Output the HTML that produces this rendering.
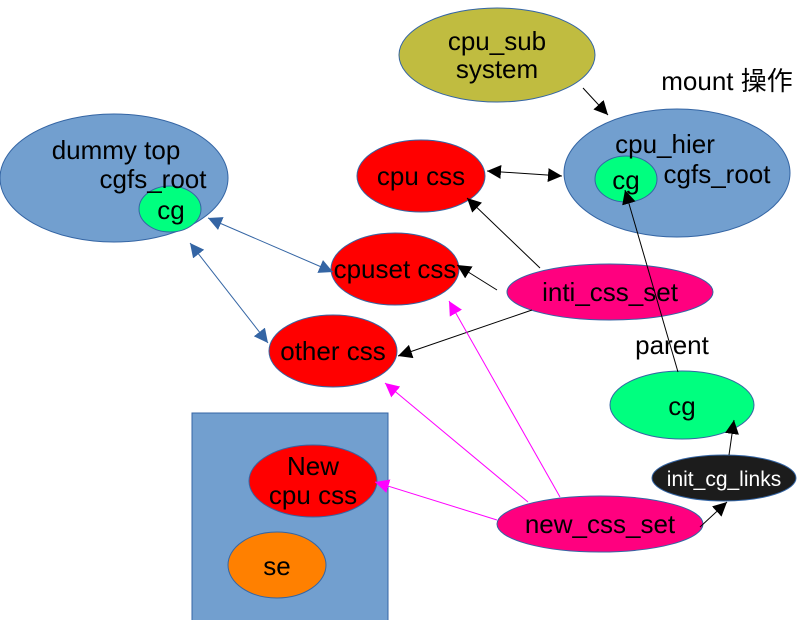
<!DOCTYPE html>
<html><head><meta charset="utf-8"><style>body{margin:0;background:#fff}svg{display:block}text{font-family:"Liberation Sans","Noto Sans CJK SC",sans-serif;font-size:26px}</style></head><body>
<svg width="806" height="620" viewBox="0 0 806 620" xmlns="http://www.w3.org/2000/svg">
<defs>
<marker id="k" viewBox="0 0 10 10" refX="10" refY="5" markerWidth="14" markerHeight="14" markerUnits="userSpaceOnUse" orient="auto-start-reverse"><path d="M0,0L10,5L0,10z" fill="#000"/></marker>
<marker id="b" viewBox="0 0 10 10" refX="10" refY="5" markerWidth="14" markerHeight="14" markerUnits="userSpaceOnUse" orient="auto-start-reverse"><path d="M0,0L10,5L0,10z" fill="#3465a4"/></marker>
<marker id="m" viewBox="0 0 10 10" refX="10" refY="5" markerWidth="14" markerHeight="14" markerUnits="userSpaceOnUse" orient="auto-start-reverse"><path d="M0,0L10,5L0,10z" fill="#ff00ff"/></marker>
</defs>
<rect x="192" y="413" width="196" height="210" fill="#729fcf" stroke="#3465a4"/>
<ellipse cx="497" cy="55" rx="98" ry="47" fill="#c0bc40" stroke="#3465a4"/>
<ellipse cx="677" cy="173" rx="113" ry="64" fill="#729fcf" stroke="#3465a4"/>
<ellipse cx="626" cy="179" rx="31" ry="23" fill="#00ff7f" stroke="#3465a4"/>
<ellipse cx="114" cy="178" rx="114" ry="64" fill="#729fcf" stroke="#3465a4"/>
<ellipse cx="170" cy="209" rx="31" ry="23" fill="#00ff7f" stroke="#3465a4"/>
<ellipse cx="421" cy="176" rx="64" ry="36" fill="#ff0000" stroke="#3465a4"/>
<ellipse cx="395" cy="269" rx="64" ry="36" fill="#ff0000" stroke="#3465a4"/>
<ellipse cx="333" cy="351" rx="64" ry="36" fill="#ff0000" stroke="#3465a4"/>
<ellipse cx="610" cy="292" rx="103" ry="28" fill="#ff007f" stroke="#3465a4"/>
<ellipse cx="682" cy="405" rx="72" ry="34" fill="#00ff7f" stroke="#3465a4"/>
<ellipse cx="724" cy="478" rx="72" ry="23" fill="#1c1c1c" stroke="#3465a4"/>
<ellipse cx="600" cy="524" rx="103" ry="28" fill="#ff007f" stroke="#3465a4"/>
<ellipse cx="313" cy="481" rx="64" ry="36" fill="#ff0000" stroke="#3465a4"/>
<ellipse cx="277" cy="565" rx="49" ry="33" fill="#ff8000" stroke="#3465a4"/>
<g stroke="#000" stroke-width="1" fill="none">
<line x1="583" y1="88" x2="608" y2="115" marker-end="url(#k)"/>
<line x1="487" y1="171" x2="562" y2="176" marker-start="url(#k)" marker-end="url(#k)"/>
<line x1="540" y1="268" x2="467" y2="198" marker-end="url(#k)"/>
<line x1="497" y1="290" x2="457" y2="265" marker-end="url(#k)"/>
<line x1="532" y1="310" x2="398" y2="356" marker-end="url(#k)"/>
<line x1="678" y1="372" x2="625" y2="190" marker-end="url(#k)"/>
<line x1="729" y1="455" x2="734" y2="420" marker-end="url(#k)"/>
<line x1="700" y1="527" x2="727" y2="502" marker-end="url(#k)"/>
</g>
<g stroke="#3465a4" stroke-width="1">
<line x1="208" y1="218" x2="333" y2="272" marker-start="url(#b)" marker-end="url(#b)"/>
<line x1="190" y1="243" x2="268" y2="343" marker-start="url(#b)" marker-end="url(#b)"/>
</g>
<g stroke="#ff00ff" stroke-width="1">
<line x1="497" y1="520" x2="375" y2="482" marker-end="url(#m)"/>
<line x1="528" y1="502" x2="385" y2="383" marker-end="url(#m)"/>
<line x1="560" y1="497" x2="449" y2="301" marker-end="url(#m)"/>
</g>
<g fill="#000" text-anchor="middle">
<text x="497" y="50">cpu_sub</text><text x="497" y="78">system</text>
<text x="727" y="90">mount  操作</text>
<text x="665" y="153">cpu_hier</text><text x="717" y="183">cgfs_root</text>
<text x="626" y="189">cg</text>
<text x="116" y="159">dummy top</text><text x="153" y="188">cgfs_root</text>
<text x="171" y="219">cg</text>
<text x="421" y="185">cpu css</text>
<text x="395" y="278">cpuset css</text>
<text x="333" y="360">other css</text>
<text x="610" y="301">inti_css_set</text>
<text x="672" y="354">parent</text>
<text x="682" y="415">cg</text>
<text x="724" y="486" fill="#fff" style="font-size:21px">init_cg_links</text>
<text x="600" y="533">new_css_set</text>
<text x="313" y="475">New</text><text x="313" y="504">cpu css</text>
<text x="277" y="575">se</text>
</g>
</svg>
</body></html>
